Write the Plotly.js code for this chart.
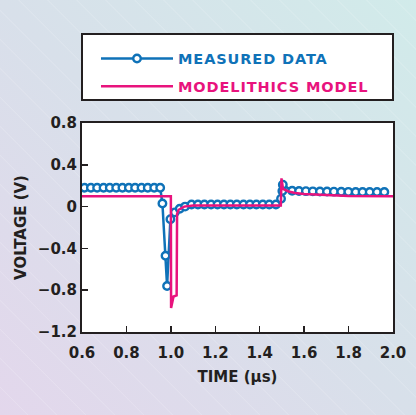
<!DOCTYPE html>
<html>
<head>
<meta charset="utf-8">
<script src="https://cdn.plot.ly/plotly-3.0.1.min.js"></script>
<style>
  html, body { margin: 0; padding: 0; }
  body {
    width: 416px; height: 415px; overflow: hidden;
    background:
      repeating-linear-gradient(45deg, rgba(255,255,255,0) 0px, rgba(255,255,255,0) 19px, rgba(255,255,255,0.22) 19.5px, rgba(255,255,255,0) 20.5px),
      linear-gradient(45deg, #e3d7ec 0%, #d8e0ea 50%, #d1ebea 100%);
  }
  #chart { width: 416px; height: 415px; }
</style>
</head>
<body>
<div id="chart"></div>
<script>
// Measured transient (time in µs, voltage in V)
const measuredTime = [
  0.611, 0.640, 0.668, 0.697, 0.725, 0.754, 0.782, 0.811, 0.839, 0.868, 0.896, 0.925, 0.952,
  0.962, 0.976, 0.983, 0.998, 1.018, 1.040, 1.064,
  1.093, 1.122, 1.151, 1.181, 1.210, 1.239, 1.268, 1.297, 1.327, 1.356, 1.385, 1.414, 1.443, 1.473,
  1.496, 1.502, 1.504, 1.546, 1.577, 1.608, 1.639, 1.671, 1.703, 1.734, 1.767, 1.799, 1.832, 1.863, 1.895, 1.928, 1.961
];
const measuredVolts = [
  0.18, 0.18, 0.18, 0.18, 0.18, 0.18, 0.18, 0.18, 0.18, 0.18, 0.18, 0.18, 0.18,
  0.03, -0.47, -0.76, -0.12, -0.055, -0.02, 0.00,
  0.02, 0.02, 0.02, 0.02, 0.02, 0.02, 0.02, 0.02, 0.02, 0.02, 0.02, 0.02, 0.02, 0.02,
  0.076, 0.15, 0.21, 0.152, 0.15, 0.148, 0.146, 0.145, 0.144, 0.143, 0.142, 0.141, 0.14, 0.14, 0.14, 0.14, 0.14
];

// Simulated response from the model
const modelTime = [
  0.6, 1.0, 1.001, 1.012, 1.026, 1.028, 1.035, 1.06, 1.1,
  1.495, 1.498, 1.505, 1.53, 1.56, 1.6, 1.7, 1.8, 2.0
];
const modelVolts = [
  0.10, 0.10, -0.97, -0.86, -0.85, -0.07, -0.03, 0.0, 0.01,
  0.01, 0.27, 0.17, 0.145, 0.13, 0.12, 0.108, 0.102, 0.10
];

const xTicks = [0.6, 0.8, 1.0, 1.2, 1.4, 1.6, 1.8, 2.0];
const yTicks = [-1.2, -0.8, -0.4, 0, 0.4, 0.8];

const BLUE = '#0f72b8';
const PINK = '#e8137d';
const INK = '#231f20';
const FONT = 'DejaVu Sans';

function legendLabel(text, color) {
  return '<span style="color:' + color + ';letter-spacing:0.9px">' + text + '</span>';
}

const traces = [
  {
    x: measuredTime, y: measuredVolts,
    type: 'scatter', mode: 'lines+markers',
    name: legendLabel('MEASURED DATA', BLUE),
    legendgroup: 'measured',
    line: { color: BLUE, width: 2.5 },
    marker: { symbol: 'circle', size: 7.5, color: '#ffffff', line: { color: BLUE, width: 2.4 } }
  },
  {
    x: modelTime, y: modelVolts,
    type: 'scatter', mode: 'lines',
    name: legendLabel('MODELITHICS MODEL', PINK),
    legendgroup: 'model',
    line: { color: PINK, width: 2.5 }
  }
];

const layout = {
  width: 416, height: 415,
  paper_bgcolor: 'rgba(0,0,0,0)',
  plot_bgcolor: '#ffffff',
  margin: { l: 82, r: 23, t: 123, b: 83 },
  font: { family: FONT, color: INK, size: 15 },
  showlegend: true,
  legend: {
    x: 0.045, y: 1.385, xanchor: 'left', yanchor: 'top',
    bgcolor: 'rgba(0,0,0,0)', borderwidth: 0,
    itemwidth: 72,
    traceorder: 'grouped',
    tracegroupgap: 6,
    font: { family: FONT, size: 14.5, weight: 'bold' }
  },
  xaxis: {
    range: [0.6, 2.0],
    tickvals: xTicks, tickformat: '.1f',
    ticks: 'inside', ticklen: 6, tickwidth: 1.5, tickcolor: INK,
    ticklabelstandoff: 6,
    showline: true, linecolor: INK, linewidth: 2, mirror: true,
    showgrid: false, zeroline: false,
    tickfont: { family: FONT, size: 15, weight: 'bold', color: INK },
    title: { text: 'TIME (µs)', font: { family: FONT, size: 15, weight: 'bold', color: INK }, standoff: 10 }
  },
  yaxis: {
    range: [-1.2, 0.8],
    tickvals: yTicks,
    ticks: 'inside', ticklen: 6, tickwidth: 1.5, tickcolor: INK,
    showline: true, linecolor: INK, linewidth: 2, mirror: true,
    showgrid: false, zeroline: false,
    tickfont: { family: FONT, size: 15, weight: 'bold', color: INK },
    title: { text: 'VOLTAGE (V)', font: { family: FONT, size: 15, weight: 'bold', color: INK }, standoff: 8 }
  },
  shapes: [
    {
      type: 'rect', xref: 'paper', yref: 'paper',
      x0: 0, x1: 1, y0: 1.11, y1: 1.426,
      fillcolor: '#ffffff', line: { color: INK, width: 2 }, layer: 'below'
    }
  ]
};

Plotly.newPlot('chart', traces, layout, { displayModeBar: false, staticPlot: true });
</script>
</body>
</html>
